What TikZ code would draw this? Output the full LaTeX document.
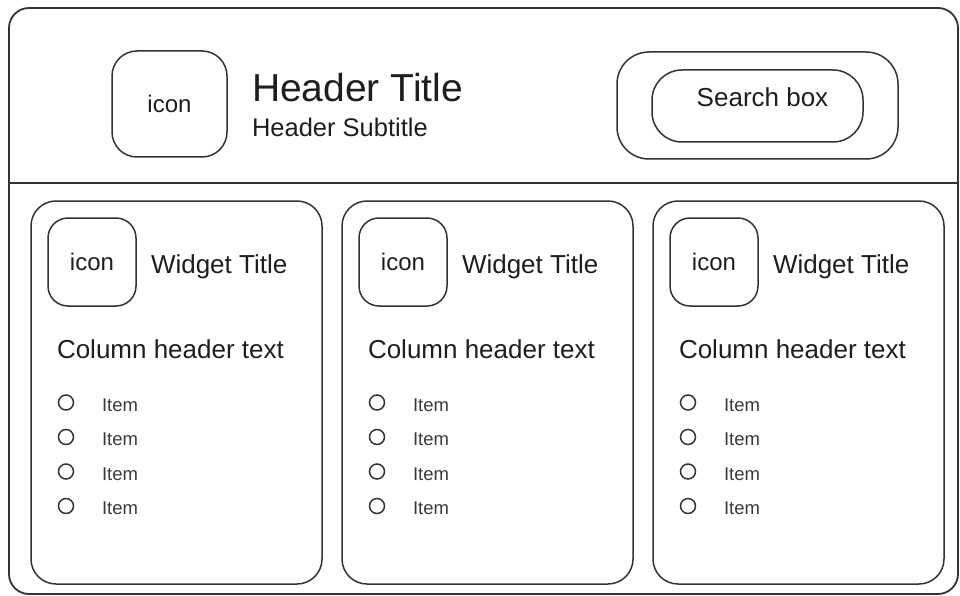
\documentclass[tikz,border=0pt]{standalone}
\usepackage{fontspec}
\setmainfont{Liberation Sans}
\definecolor{linegray}{HTML}{333333}
\definecolor{inkgray}{HTML}{1E1E1E}
\definecolor{itemgray}{HTML}{3A3A3A}
\newcommand{\fsz}[1]{\fontsize{#1}{#1}\selectfont}
\tikzset{
  outline/.style={draw=linegray, line width=1.5pt},
  roundbox/.style={outline, rounded corners=#1, inner sep=0pt, outer sep=0pt},
  txt/.style={text=inkgray, inner sep=0pt, outer sep=0pt},
  bullet/.style={draw=linegray, line width=1.5pt, circle, minimum size=15pt, inner sep=0pt},
}
\begin{document}
\begin{tikzpicture}[x=1pt, y=-1pt]
  \useasboundingbox (0,0) rectangle (960,596);

  % page frame and header divider
  \node[roundbox=20pt, line width=1.8pt, minimum width=949pt, minimum height=586pt] (frame) at (483.5,301) {};
  \coordinate (divL) at (9,183);
  \coordinate (divR) at (958,183);
  \draw[outline, line width=1.8pt] (divL) -- (divR);

  % header
  \node[roundbox=25pt, minimum width=115pt, minimum height=106pt, txt, font=\fsz{24}] (hicon) at (169.5,104) {icon};
  \node[txt, anchor=base west, font=\fsz{39}] (htitle) at (252,102) {Header Title};
  \node[txt, anchor=base west, font=\fsz{25.5}] (hsub) at (252,137) {Header Subtitle};

  \node[roundbox=32pt, minimum width=281pt, minimum height=107pt] (search) at (757.5,105.5) {};
  \node[roundbox=30pt, minimum width=211pt, minimum height=72pt] (sfield) at (757.5,106) {};
  \node[txt, anchor=base, font=\fsz{26}] (slabel) at (762.5,107) {Search box};

  % widgets
  \foreach \i/\x in {1/31, 2/342, 3/653} {
    \node[roundbox=25pt, minimum width=291pt, minimum height=383pt, anchor=north west] (w\i) at (\x,201) {};
    \node[roundbox=20pt, minimum width=88pt, minimum height=88pt, txt, font=\fsz{24}] (wicon\i) at (\x+61,262) {icon};
    \node[txt, anchor=base west, font=\fsz{26}] (wtitle\i) at (\x+120,273) {Widget Title};
    \node[txt, anchor=base west, font=\fsz{26}] (wcol\i) at (\x+26,358) {Column header text};
    \foreach \k in {0,1,2,3} {
      \node[bullet] (b\i\k) at (\x+35,402.5+34.5*\k) {};
      \node[txt, text=itemgray, anchor=base west, font=\fsz{18.5}] (it\i\k) at (\x+71,411+34.5*\k) {Item};
    }
  }
\end{tikzpicture}
\end{document}
